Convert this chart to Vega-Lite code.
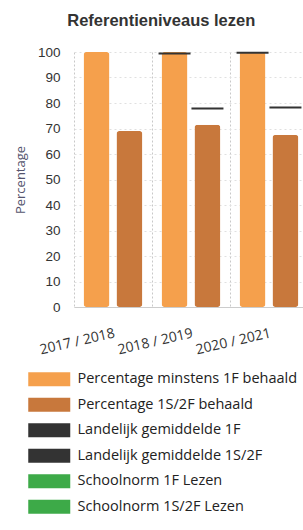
{
  "$schema": "https://vega.github.io/schema/vega-lite/v6.json",
  "width": 234,
  "height": 255,
  "padding": {"left": 14, "top": 12, "right": 0, "bottom": 0},
  "background": "white",
  "title": {
    "text": "Referentieniveaus lezen",
    "font": "Liberation Sans",
    "fontSize": 16.5,
    "fontWeight": "bold",
    "color": "#333333",
    "anchor": "middle",
    "frame": "bounds",
    "offset": 16
  },
  "data": {
    "values": [
      {"jaar": "2017 / 2018", "slot": "A", "soort": "bar", "reeks": "Percentage minstens 1F behaald", "waarde": 100},
      {"jaar": "2017 / 2018", "slot": "B", "soort": "bar", "reeks": "Percentage 1S/2F behaald", "waarde": 69},
      {"jaar": "2018 / 2019", "slot": "A", "soort": "bar", "reeks": "Percentage minstens 1F behaald", "waarde": 100},
      {"jaar": "2018 / 2019", "slot": "B", "soort": "bar", "reeks": "Percentage 1S/2F behaald", "waarde": 71.5},
      {"jaar": "2020 / 2021", "slot": "A", "soort": "bar", "reeks": "Percentage minstens 1F behaald", "waarde": 100},
      {"jaar": "2020 / 2021", "slot": "B", "soort": "bar", "reeks": "Percentage 1S/2F behaald", "waarde": 67.5},
      {"jaar": "2018 / 2019", "slot": "A", "soort": "lijn", "reeks": "Landelijk gemiddelde 1F", "waarde": 99.4},
      {"jaar": "2018 / 2019", "slot": "B", "soort": "lijn", "reeks": "Landelijk gemiddelde 1S/2F", "waarde": 77.8},
      {"jaar": "2020 / 2021", "slot": "A", "soort": "lijn", "reeks": "Landelijk gemiddelde 1F", "waarde": 99.7},
      {"jaar": "2020 / 2021", "slot": "B", "soort": "lijn", "reeks": "Landelijk gemiddelde 1S/2F", "waarde": 78.2}
    ]
  },
  "encoding": {
    "x": {
      "field": "jaar",
      "type": "nominal",
      "sort": null,
      "scale": {"paddingInner": 0, "paddingOuter": 0},
      "axis": {
        "title": null,
        "labelAngle": -13,
        "labelAlign": "right",
        "labelBaseline": "top",
        "labelPadding": 19,
        "labelFont": "Open Sans",
        "labelFontSize": 14,
        "labelColor": "#333333",
        "ticks": false,
        "domain": true,
        "domainColor": "#cccccc",
        "grid": true,
        "bandPosition": 0,
        "gridDash": [2, 2],
        "gridColor": "#c8c8c8"
      }
    },
    "xOffset": {
      "field": "slot",
      "type": "nominal",
      "scale": {"paddingInner": 0.21, "paddingOuter": 0.29}
    },
    "y": {
      "field": "waarde",
      "type": "quantitative",
      "scale": {"domain": [0, 100], "nice": false},
      "axis": {
        "title": "Percentage",
        "titleFont": "Open Sans",
        "titleFontSize": 13,
        "titleFontWeight": "normal",
        "titleColor": "#55556e",
        "titlePadding": 10,
        "values": [0, 10, 20, 30, 40, 50, 60, 70, 80, 90, 100],
        "labelFont": "Liberation Sans",
        "labelFontSize": 13.5,
        "labelColor": "#333333",
        "labelPadding": 14,
        "ticks": false,
        "domain": false,
        "gridDash": [2, 3],
        "gridColor": "#e0e0e0"
      }
    },
    "color": {
      "field": "reeks",
      "type": "nominal",
      "scale": {
        "domain": [
          "Percentage minstens 1F behaald",
          "Percentage 1S/2F behaald",
          "Landelijk gemiddelde 1F",
          "Landelijk gemiddelde 1S/2F",
          "Schoolnorm 1F Lezen",
          "Schoolnorm 1S/2F Lezen"
        ],
        "range": ["#F5A04C", "#C8783C", "#333333", "#333333", "#3DAA48", "#3DAA48"]
      },
      "legend": {
        "title": null,
        "orient": "none",
        "legendX": -32,
        "legendY": 320,
        "direction": "vertical",
        "symbolType": "M-3,-1H3V1H-3Z",
        "symbolSize": 196,
        "symbolStrokeWidth": 0,
        "symbolOpacity": 1,
        "labelFont": "Open Sans",
        "labelFontSize": 14.5,
        "labelColor": "#222222",
        "labelOffset": 21,
        "labelLimit": 300,
        "rowPadding": 9.5
      }
    }
  },
  "layer": [
    {
      "transform": [{"filter": "datum.soort === 'bar'"}],
      "mark": {"type": "bar", "cornerRadius": 3}
    },
    {
      "transform": [{"filter": "datum.soort === 'lijn'"}],
      "mark": {"type": "tick", "size": 32, "thickness": 2, "opacity": 1}
    }
  ],
  "config": {
    "view": {"stroke": null}
  }
}
